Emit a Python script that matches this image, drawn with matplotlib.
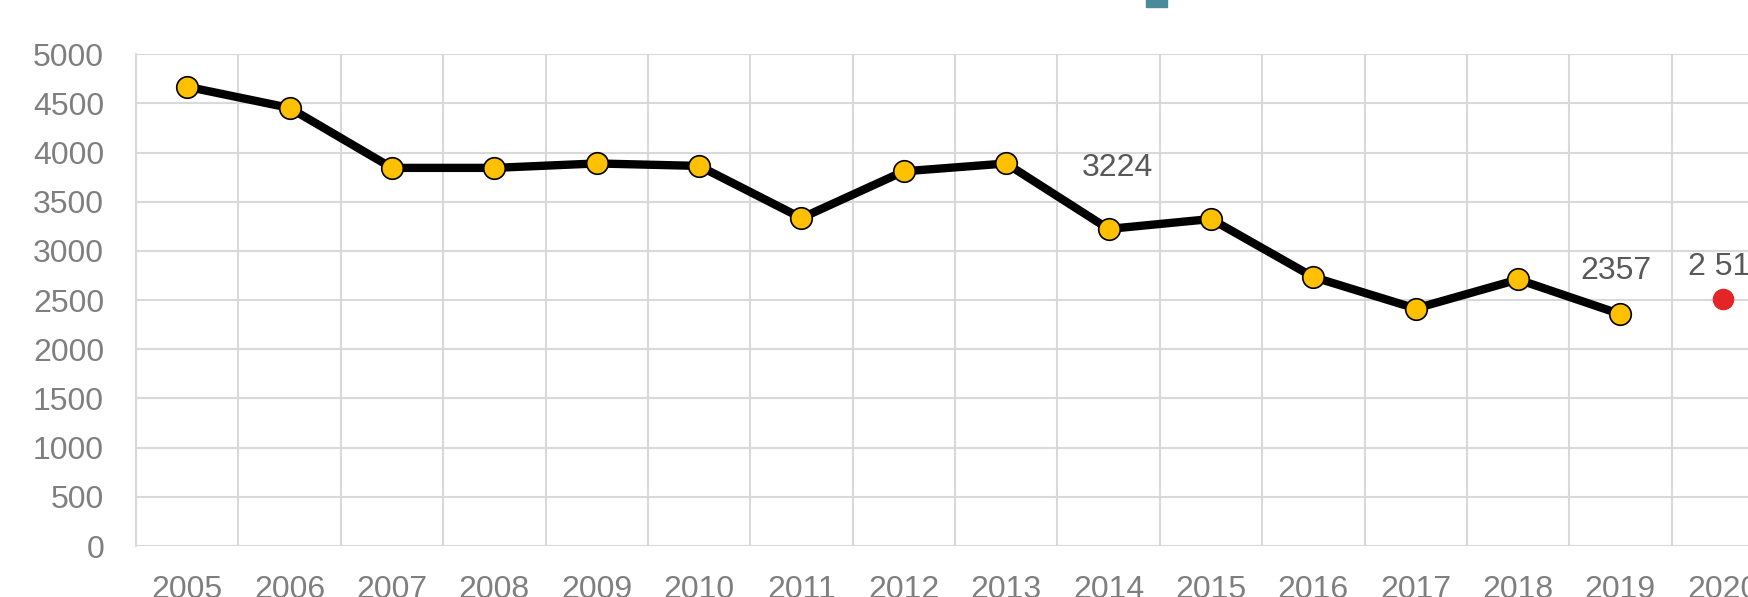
import matplotlib.pyplot as plt
from matplotlib.patches import Rectangle
import numpy as np

# Data ------------------------------------------------------------------------

years = ['2005', '2006', '2007', '2008', '2009', '2010', '2011', '2012',
         '2013', '2014', '2015', '2016', '2017', '2018', '2019', '2020']
values = [4670, 4455, 3845, 3845, 3890, 3865, 3335, 3810,
          3890, 3224, 3325, 2735, 2415, 2710, 2357]
value_2020 = 2515
y_ticks = [0, 500, 1000, 1500, 2000, 2500, 3000, 3500, 4000, 4500, 5000]

# Styles ----------------------------------------------------------------------

GRID = '#d9d9d9'
TICK_COLOR = '#7f7f7f'
LABEL_COLOR = '#595959'
YELLOW = '#ffc000'
RED = '#e32526'
TEAL = '#4a8a9b'
FS = 23

plt.rcParams['font.family'] = ['Liberation Sans', 'DejaVu Sans']

fig = plt.figure(figsize=(17.48, 5.97), dpi=100)
ax = fig.add_axes([136 / 1748, 51 / 597, 1638 / 1748, 491.7 / 597])

x = np.arange(len(values))
ax.plot(x, values, color='black', lw=6, marker='o', ms=15.5,
        mfc=YELLOW, mec='black', mew=1.2, zorder=3, solid_joinstyle='round')
ax.plot([len(values)], [value_2020], 'o', color=RED, ms=14.5, mec=RED, zorder=3)

# data labels
ax.annotate(str(values[9]), (9, values[9]), xytext=(6.5, 44),
            textcoords='offset points', ha='center', va='center',
            fontsize=FS, color=LABEL_COLOR)
ax.annotate(str(values[14]), (14, values[14]), xytext=(-3.5, 31),
            textcoords='offset points', ha='center', va='center',
            fontsize=FS, color=LABEL_COLOR)
ax.annotate(f'{value_2020:,}'.replace(',', ' '), (15, value_2020),
            xytext=(4, 23), textcoords='offset points', ha='center',
            va='center', fontsize=FS, color=LABEL_COLOR)

ax.set_xlim(-0.5, len(years) - 0.5)
ax.set_ylim(0, 5000)
ax.set_xticks(np.arange(len(years)))
ax.set_xticklabels(years)
ax.set_xticks(np.arange(len(years) + 1) - 0.5, minor=True)
ax.set_yticks(y_ticks)

ax.grid(True, which='minor', axis='x', color=GRID, lw=1.5)
ax.grid(True, which='major', axis='y', color=GRID, lw=1.5)
ax.set_axisbelow(True)

for side in ['top', 'right', 'bottom']:
    ax.spines[side].set_visible(False)
ax.spines['left'].set_color(GRID)
ax.spines['left'].set_linewidth(1.5)

ax.tick_params(axis='both', which='both', length=0, labelsize=FS,
               labelcolor=TICK_COLOR)
ax.tick_params(axis='y', pad=23)
ax.tick_params(axis='x', pad=21)

# piece of the legend key cut off at the top edge
fig.patches.append(Rectangle((1146 / 1748, 1 - 7 / 597), 21 / 1748, 0.02,
                             transform=fig.transFigure, color=TEAL,
                             clip_on=False))

fig.savefig('out.png', dpi=100)
